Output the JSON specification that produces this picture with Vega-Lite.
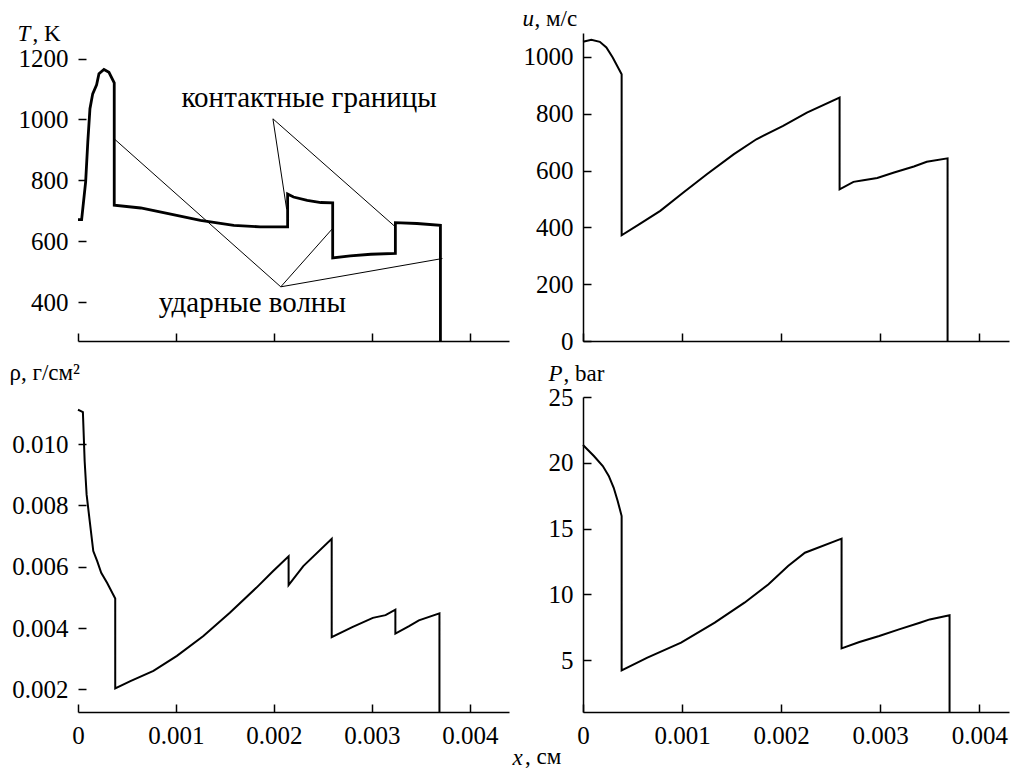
{
  "$schema": "https://vega.github.io/schema/vega-lite/v6.json",
  "background": "white",
  "padding": {"left": 9, "top": 7, "right": 5, "bottom": 5},
  "bounds": "flush",
  "columns": 2,
  "spacing": {"row": 56, "column": 74},
  "title": {"text": ", см", "orient": "bottom", "anchor": "start", "frame": "group", "dx": 447, "font": "Liberation Serif", "fontSize": 23, "fontWeight": "normal", "color": "black", "offset": -23},
  "config": {
    "font": "Liberation Serif",
    "view": {"stroke": null},
    "axis": {
      "grid": false, "domainColor": "black", "tickColor": "black", "labelColor": "black", "titleColor": "black",
      "domainWidth": 1.5, "tickWidth": 1.5, "tickSize": -8,
      "labelFont": "Liberation Serif", "labelFontSize": 25, "titleFont": "Liberation Serif", "titleFontSize": 23, "titleFontWeight": "normal",
      "titleAngle": 0, "titleAlign": "left", "titleBaseline": "alphabetic", "labelFlush": false, "labelOverlap": false
    },
    "axisY": {"labelPadding": 18},
    "axisX": {"labelPadding": 19}
  },
  "datasets": {
    "T": [
      {"i":0,"x":0,"v":671},{"i":1,"x":0.000037,"v":671},{"i":2,"x":0.000078,"v":795},{"i":3,"x":0.0001,"v":926},
      {"i":4,"x":0.000122,"v":1035},{"i":5,"x":0.00015,"v":1084},{"i":6,"x":0.00019,"v":1114},{"i":7,"x":0.000214,"v":1150},
      {"i":8,"x":0.000265,"v":1164},{"i":9,"x":0.000316,"v":1155},{"i":10,"x":0.00037,"v":1120},{"i":11,"x":0.00037,"v":718},
      {"i":12,"x":0.00064,"v":709},{"i":13,"x":0.00091,"v":691},{"i":14,"x":0.00125,"v":668},{"i":15,"x":0.00159,"v":652},
      {"i":16,"x":0.00186,"v":647},{"i":17,"x":0.00214,"v":647},{"i":18,"x":0.00214,"v":755},{"i":19,"x":0.0022,"v":745},
      {"i":20,"x":0.00234,"v":734},{"i":21,"x":0.00248,"v":727},{"i":22,"x":0.0026,"v":726},{"i":23,"x":0.0026,"v":545},
      {"i":24,"x":0.00278,"v":552},{"i":25,"x":0.00299,"v":557},{"i":26,"x":0.00324,"v":560},{"i":27,"x":0.00324,"v":661},
      {"i":28,"x":0.00346,"v":658},{"i":29,"x":0.0037,"v":652},{"i":30,"x":0.0037,"v":272}
    ],
    "u": [
      {"i":0,"x":0,"v":1053},{"i":1,"x":0.000084,"v":1060},{"i":2,"x":0.00017,"v":1053},{"i":3,"x":0.000236,"v":1033},
      {"i":4,"x":0.0003,"v":998},{"i":5,"x":0.00039,"v":939},{"i":6,"x":0.00039,"v":372},{"i":7,"x":0.00057,"v":411},
      {"i":8,"x":0.00078,"v":458},{"i":9,"x":0.00101,"v":522},{"i":10,"x":0.00125,"v":587},{"i":11,"x":0.00152,"v":657},
      {"i":12,"x":0.00175,"v":710},{"i":13,"x":0.00202,"v":757},{"i":14,"x":0.00226,"v":804},{"i":15,"x":0.00259,"v":857},
      {"i":16,"x":0.00259,"v":534},{"i":17,"x":0.00273,"v":560},{"i":18,"x":0.00283,"v":566},{"i":19,"x":0.00297,"v":574},
      {"i":20,"x":0.00314,"v":593},{"i":21,"x":0.00334,"v":614},{"i":22,"x":0.00347,"v":631},{"i":23,"x":0.00368,"v":643},
      {"i":24,"x":0.00368,"v":0}
    ],
    "rho": [
      {"i":0,"x":0,"v":0.01112},{"i":1,"x":0.00002,"v":0.01109},{"i":2,"x":0.00005,"v":0.01104},{"i":3,"x":0.000068,"v":0.00944},
      {"i":4,"x":0.000088,"v":0.00835},{"i":5,"x":0.00012,"v":0.00748},{"i":6,"x":0.000156,"v":0.00651},{"i":7,"x":0.000196,"v":0.00618},
      {"i":8,"x":0.000237,"v":0.0058},{"i":9,"x":0.000298,"v":0.00547},{"i":10,"x":0.00038,"v":0.00496},{"i":11,"x":0.00038,"v":0.00203},
      {"i":12,"x":0.000535,"v":0.00227},{"i":13,"x":0.00077,"v":0.0026},{"i":14,"x":0.00101,"v":0.00309},{"i":15,"x":0.00128,"v":0.00374},
      {"i":16,"x":0.00155,"v":0.0045},{"i":17,"x":0.00182,"v":0.00531},{"i":18,"x":0.00199,"v":0.00585},{"i":19,"x":0.00215,"v":0.00634},
      {"i":20,"x":0.00215,"v":0.0054},{"i":21,"x":0.0023,"v":0.00602},{"i":22,"x":0.00259,"v":0.00691},{"i":23,"x":0.00259,"v":0.0037},
      {"i":24,"x":0.0028,"v":0.00403},{"i":25,"x":0.00301,"v":0.00433},{"i":26,"x":0.00314,"v":0.00442},{"i":27,"x":0.00324,"v":0.0046},
      {"i":28,"x":0.00324,"v":0.00382},{"i":29,"x":0.00338,"v":0.00406},{"i":30,"x":0.00348,"v":0.00425},{"i":31,"x":0.00369,"v":0.00448},
      {"i":32,"x":0.00369,"v":0.00126}
    ],
    "P": [
      {"i":0,"x":0,"v":21.35},{"i":1,"x":0.00011,"v":20.51},{"i":2,"x":0.0002,"v":19.75},{"i":3,"x":0.00026,"v":19.0},
      {"i":4,"x":0.00031,"v":18.1},{"i":5,"x":0.00035,"v":17.1},{"i":6,"x":0.00039,"v":15.95},{"i":7,"x":0.00039,"v":4.21},
      {"i":8,"x":0.00065,"v":5.18},{"i":9,"x":0.00099,"v":6.32},{"i":10,"x":0.00133,"v":7.84},{"i":11,"x":0.00163,"v":9.36},
      {"i":12,"x":0.00187,"v":10.75},{"i":13,"x":0.00207,"v":12.15},{"i":14,"x":0.00224,"v":13.16},{"i":15,"x":0.00261,"v":14.23},
      {"i":16,"x":0.00261,"v":5.89},{"i":17,"x":0.00279,"v":6.37},{"i":18,"x":0.00299,"v":6.83},{"i":19,"x":0.00319,"v":7.33},
      {"i":20,"x":0.0034,"v":7.84},{"i":21,"x":0.0035,"v":8.09},{"i":22,"x":0.0037,"v":8.4},{"i":23,"x":0.0037,"v":1.05}
    ],
    "annLines": [
      {"x1":0.00199,"y1":1002,"x2":0.00213,"y2":705},
      {"x1":0.00199,"y1":1002,"x2":0.00324,"y2":647},
      {"x1":0.00207,"y1":450,"x2":0.000367,"y2":937},
      {"x1":0.00207,"y1":450,"x2":0.0026,"y2":642},
      {"x1":0.00207,"y1":450,"x2":0.00372,"y2":543}
    ],
    "annText": [
      {"x":0.00236,"y":1072,"label":"контактные границы"},
      {"x":0.00178,"y":398,"label":"ударные волны"}
    ]
  },
  "concat": [
    {
      "width": 431, "height": 308,
      "layer": [
        {
          "data": {"name": "T"},
          "mark": {"type": "line", "color": "black", "strokeWidth": 2.8},
          "encoding": {
            "x": {"field": "x", "type": "quantitative", "scale": {"domain": [0, 0.0044], "nice": false, "zero": false},
                  "axis": {"values": [0, 0.001, 0.002, 0.003, 0.004], "labels": false, "title": ", K", "titleX": -46, "titleY": -301}},
            "y": {"field": "v", "type": "quantitative", "scale": {"domain": [272, 1284], "nice": false, "zero": false},
                  "axis": {"values": [400, 600, 800, 1000, 1200], "format": "d", "domain": false, "title": "T", "titleFontStyle": "italic", "titleX": -61, "titleY": 7}},
            "order": {"field": "i", "type": "quantitative"}
          }
        },
        {
          "mark": {"type": "rule", "color": "black", "strokeWidth": 1.5},
          "encoding": {"x": {"datum": 0}, "y": {"datum": 272}, "y2": {"datum": 1225}}
        },
        {
          "data": {"name": "annLines"},
          "mark": {"type": "rule", "color": "black", "strokeWidth": 1},
          "encoding": {"x": {"field": "x1", "type": "quantitative"}, "y": {"field": "y1", "type": "quantitative"}, "x2": {"field": "x2"}, "y2": {"field": "y2"}}
        },
        {
          "data": {"name": "annText"},
          "mark": {"type": "text", "font": "Liberation Serif", "fontSize": 29, "align": "center", "baseline": "middle", "color": "black"},
          "encoding": {"x": {"field": "x", "type": "quantitative"}, "y": {"field": "y", "type": "quantitative"}, "text": {"field": "label"}}
        }
      ]
    },
    {
      "width": 426, "height": 308,
      "data": {"name": "u"},
      "mark": {"type": "line", "color": "black", "strokeWidth": 2},
      "encoding": {
        "x": {"field": "x", "type": "quantitative", "scale": {"domain": [0, 0.0043], "nice": false, "zero": false},
              "axis": {"values": [0, 0.001, 0.002, 0.003, 0.004], "labels": false, "title": ", м/с", "titleX": -49, "titleY": -316}},
        "y": {"field": "v", "type": "quantitative", "scale": {"domain": [0, 1084], "nice": false, "zero": false},
              "axis": {"values": [0, 200, 400, 600, 800, 1000], "format": "d", "title": "u", "titleFontStyle": "italic", "titleX": -61, "titleY": -8}},
        "order": {"field": "i", "type": "quantitative"}
      }
    },
    {
      "width": 431, "height": 315,
      "layer": [
        {
          "data": {"name": "rho"},
          "mark": {"type": "line", "color": "black", "strokeWidth": 2},
          "encoding": {
            "x": {"field": "x", "type": "quantitative", "scale": {"domain": [0, 0.0044], "nice": false, "zero": false},
                  "axis": {"values": [0, 0.001, 0.002, 0.003, 0.004], "labelExpr": "datum.value == 0 ? '0' : format(datum.value, '.3f')", "title": "x", "titleFontStyle": "italic", "titleX": 434, "titleY": 52}},
            "y": {"field": "v", "type": "quantitative", "scale": {"domain": [0.00126, 0.011536], "nice": false, "zero": false},
                  "axis": {"values": [0.002, 0.004, 0.006, 0.008, 0.010], "format": ".3f", "domain": false, "title": "ρ, г/см²", "titleX": -69, "titleY": -18}},
            "order": {"field": "i", "type": "quantitative"}
          }
        },
        {
          "mark": {"type": "rule", "color": "black", "strokeWidth": 1.5},
          "encoding": {"x": {"datum": 0}, "y": {"datum": 0.00126}, "y2": {"datum": 0.01134}}
        }
      ]
    },
    {
      "width": 426, "height": 315,
      "data": {"name": "P"},
      "mark": {"type": "line", "color": "black", "strokeWidth": 2},
      "encoding": {
        "x": {"field": "x", "type": "quantitative", "scale": {"domain": [0, 0.0043], "nice": false, "zero": false},
              "axis": {"values": [0, 0.001, 0.002, 0.003, 0.004], "labelExpr": "datum.value == 0 ? '0' : format(datum.value, '.3f')", "title": ", bar", "titleX": -20, "titleY": -332}},
        "y": {"field": "v", "type": "quantitative", "scale": {"domain": [1.05, 25], "nice": false, "zero": false},
              "axis": {"values": [5, 10, 15, 20, 25], "title": "P", "titleFontStyle": "italic", "titleX": -35, "titleY": -17}},
        "order": {"field": "i", "type": "quantitative"}
      }
    }
  ]
}
